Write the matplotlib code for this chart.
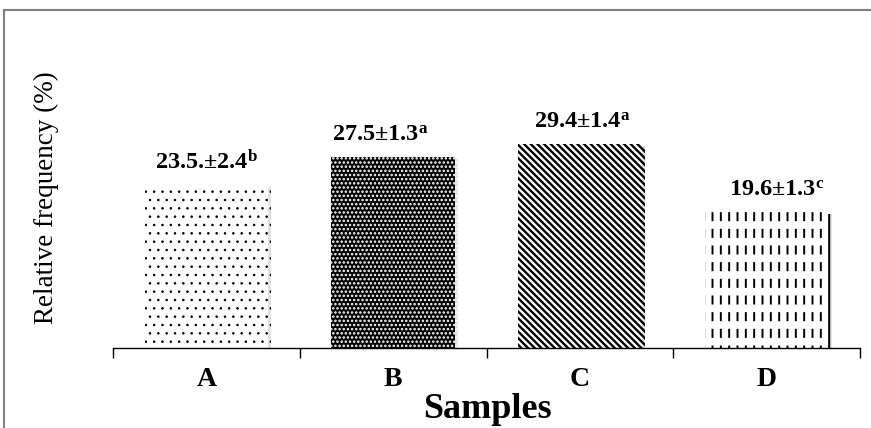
import matplotlib
matplotlib.use("Agg")
import matplotlib.pyplot as plt
import matplotlib.patheffects as pe
from matplotlib.patches import Rectangle
from matplotlib.ticker import FixedLocator

# ---- data ----
categories = ["A", "B", "C", "D"]
values = [23.5, 27.5, 29.4, 19.6]
value_text = ["23.5.±2.4", "27.5±1.3", "29.4±1.4", "19.6±1.3"]
letters = ["b", "a", "a", "c"]
xlabel = "Samples"
ylabel = "Relative frequency (%)"

# ---- style ----
label_dx = [0, -9, 2, 7]          # label horizontal nudges in points
hatches = ["..", "....", "\\\\\\\\\\", "||"]
faces = ["white", "black", "white", "white"]
hatch_cols = ["black", "white", "black", "black"]
hatch_lws = [0.6, 1.2, 1.7, 1.4]

plt.rcParams["font.family"] = ["Liberation Serif", "DejaVu Serif"]
plt.rcParams["mathtext.default"] = "regular"

fig = plt.figure(figsize=(8.71, 4.28), dpi=100)
W, H = 871, 428
ax = fig.add_axes([113 / W, (H - 348) / H, (860 - 113) / W, 278 / H])

x = list(range(len(categories)))
shadow = [pe.SimplePatchShadow(offset=(2.5, -1.5), shadow_rgbFace="#888888", alpha=0.25), pe.Normal()]
for i in x:
    with plt.rc_context({"hatch.linewidth": hatch_lws[i]}):
        b = ax.bar(x[i], values[i], width=0.66, color=faces[i], edgecolor=hatch_cols[i],
                   hatch=hatches[i], linewidth=0, zorder=2)
    for p in b:
        if hasattr(p, "set_hatch_linewidth"):
            p.set_hatch_linewidth(hatch_lws[i])
        p.set_path_effects(shadow)
    if categories[i] == "D":
        # break vertical lines into dashes
        with plt.rc_context({"hatch.linewidth": 5.5}):
            b2 = ax.bar(x[i], values[i], width=0.66, color="none", edgecolor="white",
                        hatch="-", linewidth=0, zorder=3)
        for p in b2:
            if hasattr(p, "set_hatch_linewidth"):
                p.set_hatch_linewidth(5.5)

for i in x:
    ax.annotate(value_text[i] + "$^{" + letters[i] + "}$", xy=(x[i], values[i]),
                xytext=(label_dx[i], 11.5), textcoords="offset points",
                ha="center", va="baseline", fontsize=17.5, fontweight="bold")

ax.set_xlim(-0.5, len(categories) - 0.5)
ax.set_ylim(0, 40)
for s in ["left", "top", "right"]:
    ax.spines[s].set_visible(False)
ax.spines["bottom"].set_linewidth(1.0)
ax.set_yticks([])
ax.set_xticks(x)
ax.set_xticklabels(categories, fontsize=20, fontweight="bold")
ax.tick_params(axis="x", which="major", length=0, pad=14)
ax.xaxis.set_minor_locator(FixedLocator([i - 0.5 for i in range(len(categories) + 1)]))
ax.tick_params(axis="x", which="minor", length=7, width=1.0, direction="out")

fig.text(487 / W, 1 - 410 / H, xlabel, ha="center", va="center", fontsize=26, fontweight="bold")
fig.text(46 / W, 1 - 198 / H, ylabel, ha="center", va="center", rotation=90, fontsize=19.5)

fig.add_artist(Rectangle((4 / W, -0.1), 1.2, (1 - 10 / H) + 0.1, transform=fig.transFigure,
                         fill=False, edgecolor="#7f7f7f", linewidth=1.5))

fig.savefig("out.png", dpi=100)
